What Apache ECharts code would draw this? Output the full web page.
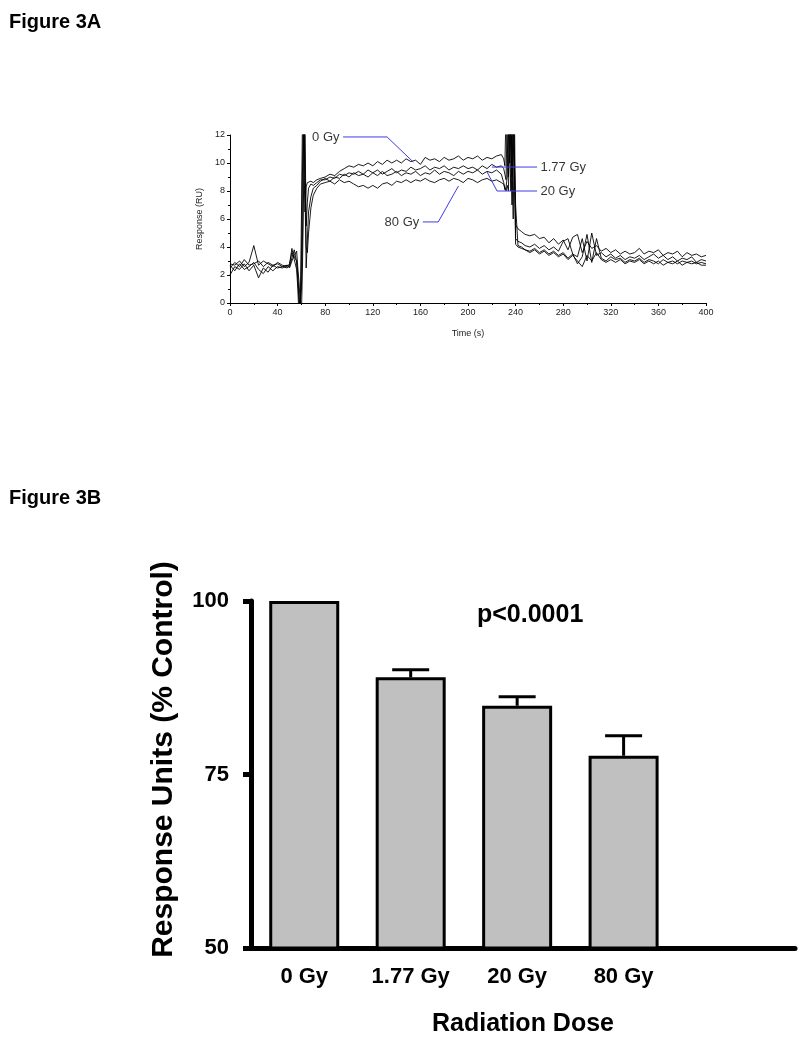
<!DOCTYPE html>
<html>
<head>
<meta charset="utf-8">
<title>Figure 3</title>
<script src="https://cdn.jsdelivr.net/npm/echarts@6/dist/echarts.min.js"></script>
<style>
  html, body { margin: 0; padding: 0; background: #fff; }
  #chart { width: 800px; height: 1048px; }
</style>
</head>
<body>
<div id="chart"></div>
<script>
// Figure 3A - sensorgram traces (time in s, response in RU)
const time = [0,4,8,12,16,20,24,28,32,36,40,44,48,
  50,52,54,56,57,58,59,60,61,62,63,64,65,66,68,70,73,76,
  80,84,88,92,96,100,104,108,112,116,120,124,128,132,136,140,144,148,152,156,160,164,168,172,176,180,184,188,192,196,200,204,208,212,216,220,224,228,
  230,231,232,233,234,235,236,237,238,239,240,242,245,248,
  252,256,260,264,268,272,276,280,284,288,292,296,300,304,308,312,316,320,324,328,332,336,340,344,348,352,356,360,364,368,372,376,380,384,388,392,396,400];

const gy0 = [2.8,2.7,3.0,2.6,2.9,4.1,2.7,3.0,2.8,2.6,2.9,2.7,2.6,
  2.8,3.6,3.3,3.0,1.5,0.2,-1,6,14,14,6.5,8.3,8.6,8.5,8.7,8.6,8.8,8.9,
  9.0,9.2,9.1,9.4,9.6,9.8,9.7,9.9,9.8,10.0,9.8,10.1,9.9,10.2,10.0,10.2,10.0,10.3,10.1,10.2,
  9.9,10.4,10.2,10.3,10.1,10.4,10.2,10.3,10.5,10.2,10.4,10.3,10.5,10.2,10.4,10.3,10.5,10.6,
  10.3,9.8,14,14,9,14,14,7,14,14,5.6,5.3,5.1,4.9,
  4.8,4.9,4.6,4.7,4.3,4.6,4.2,4.5,3.8,4.7,4.9,3.6,4.4,3.9,4.1,3.7,3.9,3.6,3.8,3.5,
  3.7,3.5,3.6,3.9,3.5,3.7,3.6,3.8,3.4,3.6,3.5,3.7,3.3,3.6,3.4,3.5,3.3,3.4];

const gy177 = [2.5,2.9,2.6,3.1,2.7,2.8,3.0,2.6,2.9,2.7,2.8,2.6,2.7,
  2.6,3.2,3.8,2.9,2.0,0.5,-0.5,3,10,14,14,5.5,7.2,8.2,8.5,8.4,8.6,8.8,
  8.8,9.0,8.9,9.2,9.1,9.3,9.2,9.4,9.2,9.5,9.3,9.5,9.2,9.4,9.6,9.3,9.5,9.4,9.7,9.5,
  9.6,9.8,9.5,9.7,9.6,9.8,9.5,9.7,9.6,9.8,9.6,9.7,9.5,9.8,9.6,9.9,9.7,9.8,
  9.6,9.2,8.8,14,14,10,14,14,6,14,4.6,4.4,4.3,4.1,
  4.0,4.2,3.9,4.1,3.8,4.0,3.7,4.4,4.6,3.5,3.3,4.6,3.0,5.0,3.4,3.6,3.3,3.5,3.2,3.4,
  3.1,3.3,3.2,3.4,3.1,3.3,3.5,3.2,3.4,3.1,3.3,3.0,3.2,3.1,3.3,2.9,3.1,3.0];

const gy20 = [2.0,2.6,2.4,2.8,2.3,2.7,1.8,2.5,2.2,2.7,2.5,2.6,2.5,
  2.7,3.9,3.1,2.4,1.0,-1,-1,1,5,14,14,2.5,4.5,6.5,7.6,8.2,8.4,8.7,
  8.9,8.7,9.0,8.9,9.2,9.0,9.3,9.1,9.2,9.0,9.3,9.1,9.4,9.1,9.2,9.4,9.1,9.3,9.2,9.4,
  9.1,9.3,9.2,9.5,9.2,9.4,9.3,9.1,9.4,9.2,9.4,9.3,9.5,9.2,9.4,9.3,9.5,9.2,
  8.6,8.1,8.3,9,14,14,8,14,14,9,4.2,4.0,3.9,3.8,
  3.7,3.9,3.6,3.8,3.5,3.7,3.4,3.6,3.2,3.5,2.8,3.3,4.9,2.9,4.6,3.2,3.0,3.3,3.1,3.2,
  2.9,3.1,3.0,3.2,2.9,3.1,3.0,2.8,3.1,2.9,3.0,2.8,3.0,2.9,3.0,2.8,2.9,2.8];

const gy80 = [2.7,2.3,2.8,2.4,2.6,2.9,2.4,2.1,2.6,2.3,2.6,2.5,2.7,
  2.5,3.0,3.4,3.7,2.5,1.5,0,-1,3,9,14,4,3.6,5.0,6.8,7.7,8.2,8.5,
  8.6,8.7,8.5,8.8,8.6,8.7,8.5,8.3,8.4,8.2,8.4,8.2,8.5,8.6,8.4,8.7,8.6,8.8,8.6,8.8,
  8.7,8.9,8.7,8.6,8.8,8.9,8.7,8.9,8.8,8.6,8.9,8.8,8.6,8.8,8.9,8.7,8.8,8.6,
  8.5,8.2,8.0,8.4,8,14,14,9,14,14,7,4.1,4.0,3.8,
  3.6,3.8,3.5,3.7,3.4,3.6,3.3,3.5,3.1,3.4,3.0,2.6,3.4,3.0,3.6,3.1,2.9,3.1,2.9,3.1,
  2.8,3.0,2.9,3.1,2.8,3.0,2.8,3.0,2.7,2.9,2.8,3.0,2.7,2.9,2.8,2.9,2.7,2.7];

const traces = [gy0, gy177, gy20, gy80];

// callout labels on 3A (first point of each path is where the label sits)
const calloutNames = ['0 Gy', '1.77 Gy', '20 Gy', '80 Gy'];
const calloutSides = ['left', 'right', 'right', 'left'];
const calloutPaths = [
  [[95, 11.86], [132, 11.86], [154, 10.07]],
  [[258, 9.71], [220, 9.71]],
  [[258, 8.0], [224.4, 8.0], [216, 9.36]],
  [[162, 5.79], [175, 5.79], [192, 8.36]]
];

// Figure 3B - bar chart
const doseLabels = ['0 Gy', '1.77 Gy', '20 Gy', '80 Gy'];
const meanResponse = [100, 89.0, 84.9, 77.7];
const semResponse = [0, 1.1, 1.3, 2.9];

const FONT = "'Liberation Sans', Arial, sans-serif";
const chart = echarts.init(document.getElementById('chart'));

const series = [];
traces.forEach(function (vals) {
  series.push({
    type: 'line',
    xAxisIndex: 0,
    yAxisIndex: 0,
    data: time.map(function (t, k) { return [t, vals[k]]; }),
    symbol: 'none',
    clip: true,
    lineStyle: { color: '#000', width: 0.9 },
    z: 2
  });
});
calloutPaths.forEach(function (path) {
  series.push({
    type: 'line',
    xAxisIndex: 0,
    yAxisIndex: 0,
    data: path,
    symbol: 'none',
    lineStyle: { color: '#3c3ce6', width: 1 },
    z: 3
  });
});
series.push({
  type: 'scatter',
  xAxisIndex: 0,
  yAxisIndex: 0,
  symbolSize: 1,
  itemStyle: { color: 'transparent' },
  data: calloutPaths.map(function (p, i) {
    return {
      value: p[0],
      name: calloutNames[i],
      label: { show: true, position: calloutSides[i], distance: 3, formatter: '{b}' }
    };
  }),
  label: { color: '#000', fontFamily: FONT, fontSize: 13 },
  z: 4
});

series.push({
  type: 'bar',
  xAxisIndex: 1,
  yAxisIndex: 1,
  data: meanResponse.map(function (v, i) { return [i, v]; }),
  barWidth: 70,
  clip: true,
  itemStyle: { color: '#c0c0c0', borderColor: '#000', borderWidth: 3 },
  z: 2
});
series.push({
  type: 'custom',
  xAxisIndex: 1,
  yAxisIndex: 1,
  data: meanResponse.map(function (v, i) { return [i, v, semResponse[i]]; }),
  renderItem: function (params, api) {
    const x = api.value(0), m = api.value(1), e = api.value(2);
    if (!e) return null;
    const top = api.coord([x, m + e]);
    const base = api.coord([x, m]);
    return {
      type: 'group',
      children: [
        { type: 'line', shape: { x1: top[0], y1: top[1], x2: base[0], y2: base[1] }, style: { stroke: '#000', lineWidth: 3 } },
        { type: 'line', shape: { x1: top[0] - 18.5, y1: top[1], x2: top[0] + 18.5, y2: top[1] }, style: { stroke: '#000', lineWidth: 3 } }
      ]
    };
  },
  z: 3
});

const option = {
  animation: false,
  backgroundColor: '#fff',
  textStyle: { fontFamily: FONT },
  graphic: [
    { type: 'text', left: 9, top: 12, style: { text: 'Figure 3A', font: 'bold 20px ' + FONT, fill: '#000' } },
    { type: 'text', left: 9, top: 488, style: { text: 'Figure 3B', font: 'bold 20px ' + FONT, fill: '#000' } },
    { type: 'text', left: 477, top: 603, style: { text: 'p<0.0001', font: 'bold 25px ' + FONT, fill: '#000' } }
  ],
  grid: [
    { left: 230, top: 135, width: 476, height: 168 },
    { left: 251, top: 601, width: 544, height: 347 }
  ],
  xAxis: [
    {
      gridIndex: 0, type: 'value', min: 0, max: 400, interval: 40,
      name: 'Time (s)', nameLocation: 'middle', nameGap: 26,
      nameTextStyle: { fontSize: 9, color: '#222', fontFamily: FONT },
      axisLine: { onZero: false, lineStyle: { color: '#000', width: 1 } },
      axisTick: { length: 3, lineStyle: { color: '#000' } },
      minorTick: { show: true, splitNumber: 2, length: 2, lineStyle: { color: '#000' } },
      axisLabel: { fontSize: 9, color: '#222', margin: 5, fontFamily: FONT },
      splitLine: { show: false }
    },
    {
      gridIndex: 1, type: 'value', min: -0.5, max: 4.61, interval: 0.5,
      name: 'Radiation Dose', nameLocation: 'middle', nameGap: 64,
      nameTextStyle: { fontSize: 25, fontWeight: 'bold', color: '#000', fontFamily: FONT },
      axisLine: { onZero: false, lineStyle: { color: '#000', width: 5 } },
      axisTick: { show: false },
      axisLabel: {
        fontSize: 22, fontWeight: 'bold', color: '#000', margin: 18, fontFamily: FONT,
        formatter: function (v) {
          const r = Math.round(v);
          return Math.abs(v - r) < 1e-6 && r >= 0 && r < doseLabels.length ? doseLabels[r] : '';
        }
      },
      splitLine: { show: false }
    }
  ],
  yAxis: [
    {
      gridIndex: 0, type: 'value', min: 0, max: 12, interval: 2,
      name: 'Response (RU)', nameLocation: 'middle', nameGap: 17,
      nameTextStyle: { fontSize: 9, color: '#222', fontFamily: FONT },
      axisLine: { show: true, onZero: false, lineStyle: { color: '#000', width: 1 } },
      axisTick: { show: true, length: 3, lineStyle: { color: '#000' } },
      minorTick: { show: true, splitNumber: 2, length: 2, lineStyle: { color: '#000' } },
      axisLabel: { fontSize: 9, color: '#222', margin: 5, fontFamily: FONT },
      splitLine: { show: false }
    },
    {
      gridIndex: 1, type: 'value', min: 50, max: 100, interval: 25,
      name: 'Response Units (% Control)', nameLocation: 'middle', nameGap: 72,
      nameMoveOverlap: false,
      nameTextStyle: { fontSize: 30, fontWeight: 'bold', color: '#000', fontFamily: FONT, padding: [0, 0, 0, 30] },
      axisLine: { show: true, onZero: false, lineStyle: { color: '#000', width: 5 } },
      axisTick: { show: true, length: 8, lineStyle: { color: '#000', width: 5 } },
      axisLabel: { fontSize: 22, fontWeight: 'bold', color: '#000', margin: 22, fontFamily: FONT },
      splitLine: { show: false }
    }
  ],
  series: series
};

chart.setOption(option);
window.addEventListener('resize', function () { chart.resize(); });
</script>
</body>
</html>
